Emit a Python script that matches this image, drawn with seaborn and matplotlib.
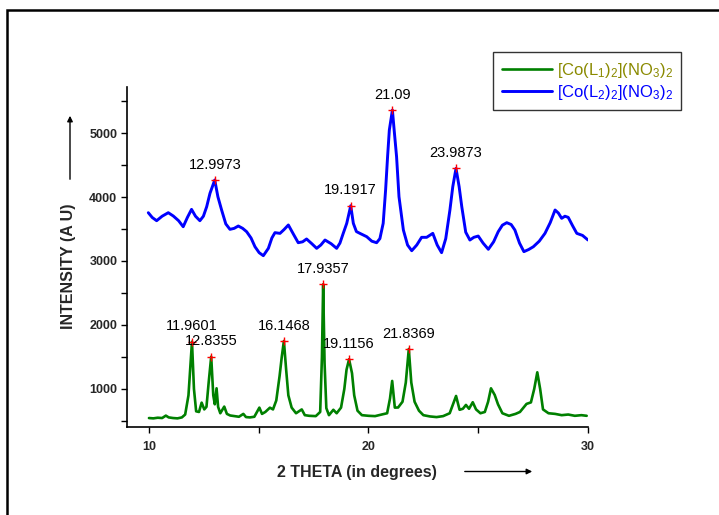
import numpy as np
import pandas as pd
import matplotlib
matplotlib.use("Agg")
import matplotlib.pyplot as plt
import seaborn as sns
from matplotlib.patches import Rectangle
from matplotlib.ticker import MultipleLocator, FixedLocator

# ==========================================
# DATA
# ==========================================

green_x = [10.0, 10.2, 10.4, 10.6, 10.77, 10.9, 11.1, 11.3, 11.5, 11.65, 11.8, 11.9601,
           12.05, 12.15, 12.28, 12.4, 12.52, 12.62, 12.72, 12.8355, 12.93, 13.0, 13.08,
           13.15, 13.25, 13.43, 13.55, 13.7, 13.9, 14.1, 14.3, 14.42, 14.6, 14.8, 15.03,
           15.15, 15.3, 15.51, 15.65, 15.8, 15.95, 16.05, 16.1468, 16.25, 16.35, 16.5,
           16.7, 16.96, 17.1, 17.3, 17.6, 17.8, 17.88, 17.9357, 18.0, 18.08, 18.2, 18.4,
           18.55, 18.75, 18.9, 19.0, 19.1156, 19.25, 19.35, 19.5, 19.7, 20.0, 20.3, 20.6,
           20.85, 20.98, 21.08, 21.2, 21.35, 21.55, 21.7, 21.8369, 21.95, 22.1, 22.3, 22.5,
           22.8, 23.1, 23.4, 23.7, 23.99, 24.15, 24.3, 24.44, 24.58, 24.75, 24.9, 25.1,
           25.3, 25.45, 25.58, 25.75, 25.9, 26.1, 26.4, 26.7, 26.9, 27.2, 27.4, 27.55,
           27.69, 27.82, 27.95, 28.2, 28.5, 28.8, 29.1, 29.4, 29.7, 29.94]
green_y = [545, 540, 550, 545, 583, 555, 545, 540, 555, 600, 900, 1739,
           1000, 650, 640, 786, 680, 720, 1100, 1505, 900, 760, 1010,
           720, 620, 724, 610, 585, 575, 565, 610, 560, 555, 565, 708,
           610, 640, 707, 680, 820, 1200, 1500, 1750, 1300, 900, 708,
           620, 680, 590, 580, 575, 640, 1500, 2636, 1400, 700, 590, 674,
           620, 708, 1000, 1300, 1464, 1245, 900, 660, 590, 580, 575, 600,
           620, 850, 1125, 708, 710, 800, 1100, 1625, 1100, 800, 660, 590,
           570, 560, 575, 620, 890, 674, 690, 750, 690, 792, 680, 620,
           640, 800, 1010, 906, 760, 620, 580, 610, 640, 766, 790, 1000,
           1260, 1000, 680, 620, 610, 590, 600, 580, 590, 580]

blue_x = [9.97, 10.15, 10.35, 10.6, 10.88, 11.11, 11.35, 11.56, 11.75, 11.94, 12.12,
          12.32, 12.48, 12.63, 12.78, 12.9973, 13.14, 13.31, 13.5, 13.69, 13.88, 14.07,
          14.27, 14.45, 14.65, 14.83, 15.02, 15.21, 15.44, 15.6, 15.74, 15.97, 16.15,
          16.35, 16.58, 16.8, 17.0, 17.18, 17.42, 17.64, 17.83, 18.02, 18.3, 18.55,
          18.7, 18.85, 19.01, 19.1917, 19.31, 19.45, 19.61, 19.92, 20.15, 20.37, 20.52,
          20.67, 20.78, 20.87, 20.95, 21.09, 21.17, 21.28, 21.39, 21.59, 21.78, 21.97,
          22.2, 22.42, 22.65, 22.93, 23.13, 23.33, 23.52, 23.71, 23.84, 23.9873, 24.13,
          24.25, 24.43, 24.62, 24.8, 25.0, 25.22, 25.46, 25.7, 25.91, 26.1, 26.3, 26.5,
          26.67, 26.88, 27.08, 27.3, 27.51, 27.78, 28.04, 28.28, 28.5, 28.65, 28.8,
          28.95, 29.1, 29.3, 29.49, 29.75, 30.0]
blue_y = [3755, 3680, 3630, 3700, 3755, 3703, 3630, 3536, 3680, 3807, 3700,
          3630, 3700, 3849, 4058, 4266, 4005, 3797, 3580, 3495, 3510, 3547,
          3510, 3458, 3360, 3223, 3130, 3083, 3198, 3360, 3443, 3432, 3490,
          3563, 3420, 3286, 3300, 3344, 3270, 3198, 3250, 3328, 3270, 3198,
          3280, 3432, 3589, 3864, 3589, 3460, 3432, 3380, 3310, 3286, 3350,
          3589, 4109, 4630, 5047, 5359, 5047, 4630, 4005, 3484, 3250, 3161,
          3250, 3370, 3370, 3432, 3250, 3130, 3350, 3797, 4161, 4448, 4161,
          3849, 3450, 3328, 3370, 3390, 3280, 3183, 3300, 3458, 3560, 3599, 3570,
          3484, 3280, 3146, 3180, 3223, 3310, 3432, 3600, 3797, 3750, 3667,
          3700, 3682, 3550, 3432, 3400, 3328]

green_peak_x = [11.9601, 12.8355, 16.1468, 17.9357, 19.1156, 21.8369]
green_peak_y = [1739, 1505, 1750, 2636, 1464, 1625]
blue_peak_x = [12.9973, 19.1917, 21.09, 23.9873]
blue_peak_y = [4266, 3864, 5359, 4448]

green_label = r"$\mathregular{[Co(L_1)_2](NO_3)_2}$"
blue_label = r"$\mathregular{[Co(L_2)_2](NO_3)_2}$"

# ==========================================
# STYLE
# ==========================================

sns.set_style("ticks")
plt.rcParams["font.family"] = ["Liberation Sans", "DejaVu Sans"]

fig = plt.figure(figsize=(7.19, 5.15), dpi=100)
ax = fig.add_axes([127 / 719, 1 - 427 / 515, 461 / 719, 340 / 515])

# outer frame (clipped at right and bottom like the reference)
fig.add_artist(Rectangle((7 / 719, -0.1), 1.2, 1 - 10 / 515 + 0.1,
                         transform=fig.transFigure, fill=False,
                         edgecolor="black", linewidth=1.8))

# ==========================================
# PLOT
# ==========================================

sns.lineplot(x=green_x, y=green_y, ax=ax, color="#008000", linewidth=1.9,
             estimator=None, label=green_label)
sns.lineplot(x=blue_x, y=blue_y, ax=ax, color="#0000FF", linewidth=2.1,
             estimator=None, label=blue_label)

ax.plot(green_peak_x, green_peak_y, "+", color="red", markersize=6, mew=1)
ax.plot(blue_peak_x, blue_peak_y, "+", color="red", markersize=6, mew=1)

for px, py in list(zip(green_peak_x, green_peak_y)) + list(zip(blue_peak_x, blue_peak_y)):
    ax.annotate(f"{px:g}", (px, py), xytext=(0, 11), textcoords="offset points",
                ha="center", va="center", fontsize=10.5, color="black")

ax.set_xlim(9.0, 30.0)
ax.set_ylim(405, 5720)

ax.xaxis.set_major_locator(FixedLocator([10, 20, 30]))
ax.xaxis.set_minor_locator(FixedLocator([15, 25]))
ax.yaxis.set_major_locator(MultipleLocator(1000))
ax.yaxis.set_minor_locator(MultipleLocator(500))

ax.tick_params(which="both", direction="out", length=4, width=1, color="black")
ax.tick_params(axis="x", which="major", labelsize=9, pad=6)
ax.tick_params(axis="y", which="major", labelsize=9, pad=3)
for lab in ax.get_xticklabels() + ax.get_yticklabels():
    lab.set_fontweight("bold")

sns.despine(ax=ax)
for side in ["left", "bottom"]:
    ax.spines[side].set_linewidth(1.2)
    ax.spines[side].set_color("black")

ax.set_xlabel("2 THETA (in degrees)", fontsize=11.5, fontweight="bold")
ax.set_ylabel("INTENSITY (A U)", fontsize=11.5, fontweight="bold")
ax.xaxis.set_label_coords((357 - 127) / 461, (427 - 472) / 340)
ax.yaxis.set_label_coords((68.5 - 127) / 461, (427 - 266) / 340)
ax.xaxis.label.set_va("center")
ax.yaxis.label.set_va("center")

# arrows next to the axis labels
ax.annotate("", xy=(535, 515 - 471.5), xytext=(462, 515 - 471.5),
            xycoords="figure pixels", textcoords="figure pixels",
            arrowprops=dict(arrowstyle="-|>", color="black", lw=1.0,
                            mutation_scale=8))
ax.annotate("", xy=(70, 515 - 113), xytext=(70, 515 - 182),
            xycoords="figure pixels", textcoords="figure pixels",
            arrowprops=dict(arrowstyle="-|>", color="black", lw=1.0,
                            mutation_scale=8))

# ==========================================
# LEGEND
# ==========================================

leg = ax.legend(loc="upper left", bbox_to_anchor=(485 / 719, 1 - 44 / 515),
                bbox_transform=fig.transFigure, frameon=True, fancybox=False,
                edgecolor="black", fontsize=12, handlelength=3.0,
                borderpad=0.5, labelspacing=0.2, handletextpad=0.3)
leg.get_frame().set_linewidth(1.0)
leg.get_texts()[0].set_color("#8A8A00")
leg.get_texts()[1].set_color("#0000FF")

fig.savefig("out.png", dpi=100)
